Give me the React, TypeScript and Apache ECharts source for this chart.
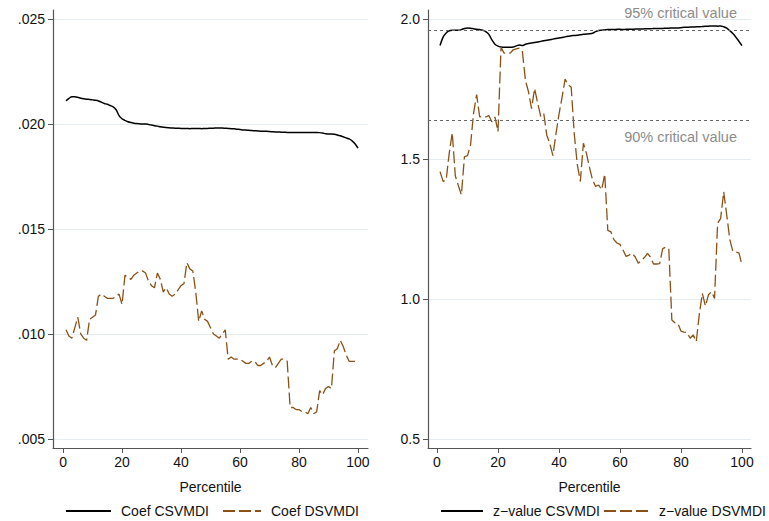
import React, { useEffect, useRef } from "react";
import * as echarts from "echarts";

const percentiles = [
  1, 2, 3, 4, 5, 6, 7, 8, 9, 10, 11, 12, 13, 14, 15, 16, 17, 18, 19, 20,
  21, 22, 23, 24, 25, 26, 27, 28, 29, 30, 31, 32, 33, 34, 35, 36, 37, 38, 39, 40,
  41, 42, 43, 44, 45, 46, 47, 48, 49, 50, 51, 52, 53, 54, 55, 56, 57, 58, 59, 60,
  61, 62, 63, 64, 65, 66, 67, 68, 69, 70, 71, 72, 73, 74, 75, 76, 77, 78, 79, 80,
  81, 82, 83, 84, 85, 86, 87, 88, 89, 90, 91, 92, 93, 94, 95, 96, 97, 98, 99, 100,
];

const coefCSVMDI = [
  0.0211, 0.02122, 0.0213, 0.0213, 0.02127, 0.02123, 0.0212, 0.02118, 0.02117, 0.02115,
  0.02113, 0.0211, 0.02104, 0.02098, 0.02094, 0.02088, 0.02082, 0.02068, 0.0204, 0.02025,
  0.02017, 0.02011, 0.02007, 0.02004, 0.02002, 0.02001, 0.02, 0.02, 0.01998, 0.01995,
  0.01992, 0.0199, 0.01987, 0.01985, 0.01983, 0.01982, 0.01981, 0.0198, 0.0198, 0.01979,
  0.01979, 0.01979, 0.01978, 0.01979, 0.01979, 0.01979, 0.01978, 0.01979, 0.01979, 0.0198,
  0.0198, 0.01981, 0.01981, 0.01981, 0.0198, 0.01979, 0.01978, 0.01977, 0.01975, 0.01974,
  0.01972, 0.01971, 0.0197, 0.01969, 0.01968, 0.01967, 0.01966, 0.01965, 0.01965, 0.01964,
  0.01963, 0.01962, 0.01962, 0.01961, 0.01961, 0.0196, 0.0196, 0.0196, 0.0196, 0.0196,
  0.0196, 0.0196, 0.0196, 0.0196, 0.0196, 0.0196, 0.01959, 0.01957, 0.01954, 0.01952,
  0.01952, 0.01951, 0.01948, 0.01944, 0.01939, 0.01934, 0.01929, 0.0192, 0.01906, 0.01885,
];

const coefDSVMDI = [
  0.0102, 0.0099, 0.0098, 0.0103, 0.0108, 0.01, 0.0098, 0.0097, 0.0107, 0.0108,
  0.0109, 0.0118, 0.0119, 0.0118, 0.0117, 0.0117, 0.0117, 0.0118, 0.0119, 0.0114,
  0.0128, 0.0127, 0.0126, 0.0128, 0.0129, 0.013, 0.013, 0.0129, 0.0125, 0.0123,
  0.0122, 0.0129, 0.0126, 0.012, 0.0122, 0.0119, 0.0118, 0.0119, 0.0121, 0.0123,
  0.0124, 0.0134, 0.0131, 0.013, 0.012, 0.0106, 0.0111, 0.0107, 0.0106, 0.0103,
  0.01, 0.0099, 0.0098, 0.01, 0.0102, 0.0088, 0.0089, 0.0088, 0.0088, 0.0088,
  0.0087, 0.0086, 0.0086, 0.0087, 0.0087, 0.0085, 0.0085, 0.0086, 0.0087, 0.0089,
  0.0085, 0.0084, 0.0086, 0.0088, 0.0088, 0.0087, 0.0065, 0.0065, 0.0064, 0.0064,
  0.0063, 0.0063, 0.0062, 0.0065, 0.0062, 0.0063, 0.0073, 0.0071, 0.0074, 0.0075,
  0.0074, 0.0092, 0.0093, 0.0097, 0.0094, 0.009, 0.0087, 0.0087, 0.0087, 0.0086,
];

const zCSVMDI = [
  1.905, 1.935, 1.95, 1.958, 1.96, 1.96, 1.96, 1.962, 1.966, 1.968,
  1.967, 1.965, 1.963, 1.962, 1.96, 1.955, 1.945, 1.925, 1.91, 1.903,
  1.9, 1.899, 1.899, 1.899, 1.9, 1.904, 1.907, 1.905, 1.91, 1.912,
  1.914, 1.916, 1.918, 1.92, 1.922, 1.924, 1.926, 1.928, 1.93, 1.932,
  1.934, 1.936, 1.938, 1.94, 1.941, 1.942, 1.944, 1.945, 1.946, 1.947,
  1.949, 1.955, 1.959, 1.96, 1.961, 1.962, 1.962, 1.962, 1.963, 1.963,
  1.962, 1.963, 1.963, 1.963, 1.964, 1.964, 1.964, 1.965, 1.965, 1.965,
  1.966, 1.966, 1.966, 1.966, 1.967, 1.967, 1.968, 1.968, 1.968, 1.969,
  1.97, 1.97, 1.971, 1.971, 1.972, 1.972, 1.973, 1.974, 1.974, 1.975,
  1.975, 1.974, 1.975, 1.972, 1.967, 1.958, 1.948, 1.935, 1.92, 1.905,
];

const zDSVMDI = [
  1.455, 1.42, 1.425, 1.52, 1.594, 1.44, 1.405, 1.372, 1.508, 1.512,
  1.55, 1.665, 1.73, 1.65, 1.652, 1.65, 1.655, 1.632, 1.65, 1.598,
  1.899, 1.878, 1.877, 1.878, 1.89, 1.893, 1.896, 1.884, 1.78, 1.74,
  1.68, 1.752, 1.7, 1.652, 1.663, 1.585, 1.555, 1.512, 1.59, 1.66,
  1.72, 1.785, 1.765, 1.756, 1.59, 1.48, 1.42, 1.556, 1.52, 1.47,
  1.425, 1.402, 1.407, 1.39, 1.446, 1.245, 1.24, 1.212, 1.2, 1.195,
  1.175, 1.152, 1.157, 1.163, 1.15, 1.128, 1.138, 1.148, 1.163, 1.15,
  1.125, 1.125, 1.126, 1.18, 1.185, 1.18, 0.925, 0.915, 0.912, 0.885,
  0.882, 0.88, 0.86, 0.872, 0.848, 0.945, 1.02, 0.975, 1.015, 1.026,
  1.002, 1.27, 1.288, 1.383, 1.3, 1.212, 1.17, 1.168, 1.165, 1.121,
];

const xTicks = [0, 20, 40, 60, 80, 100];
const leftYTicks = [0.005, 0.01, 0.015, 0.02, 0.025];
const rightYTicks = [0.5, 1.0, 1.5, 2.0];
const criticalValues = [
  { value: 1.96, label: "95% critical value" },
  { value: 1.64, label: "90% critical value" },
];

const seriesNames = ["Coef CSVMDI", "Coef DSVMDI", "z\u2212value CSVMDI", "z\u2212value DSVMDI"];

const FONT = "'Liberation Sans', Arial, Helvetica, sans-serif";
const BROWN = "#8a5117";
const GRID_COLOR = "#e3edef";
const AXIS_COLOR = "#555555";

function pairs(values: number[]) {
  return percentiles.map((p, i) => [p, values[i]]);
}

function xAxisDef(gridIndex: number, min: number, max: number) {
  return {
    type: "value",
    gridIndex,
    min,
    max,
    name: "Percentile",
    nameLocation: "middle",
    nameGap: 32,
    nameTextStyle: { fontFamily: FONT, fontSize: 14, color: "#111" },
    axisLine: { show: true, onZero: false, lineStyle: { color: AXIS_COLOR, width: 1.2 } },
    axisTick: { show: true, length: 5, customValues: xTicks, lineStyle: { color: AXIS_COLOR } },
    axisLabel: {
      customValues: xTicks,
      fontFamily: FONT,
      fontSize: 14,
      color: "#111",
      margin: 7,
    },
    splitLine: { show: false },
  };
}

function yAxisDef(gridIndex: number, min: number, max: number, ticks: number[], fmt: (v: number) => string) {
  return {
    type: "value",
    gridIndex,
    min,
    max,
    axisLine: { show: true, onZero: false, lineStyle: { color: AXIS_COLOR, width: 1.2 } },
    axisTick: { show: true, length: 5, customValues: ticks, lineStyle: { color: AXIS_COLOR } },
    axisLabel: {
      customValues: ticks,
      formatter: fmt,
      fontFamily: FONT,
      fontSize: 14,
      color: "#111",
      margin: 8,
    },
    splitLine: { show: true, lineStyle: { color: GRID_COLOR, width: 1 } },
  };
}

function legendDef(name: string, left: number, itemWidth: number) {
  return {
    data: [name],
    left,
    top: 504,
    padding: 0,
    itemWidth,
    itemHeight: 14,
    selectedMode: false,
    itemStyle: { color: "transparent", borderWidth: 0, opacity: 0 },
    textStyle: { fontFamily: FONT, fontSize: 14, color: "#111", padding: [0, 0, 0, 5] },
  };
}

export default function App() {
  const ref = useRef<HTMLDivElement>(null);

  useEffect(() => {
    document.body.style.margin = "0";
    if (!ref.current) return;
    const chart = echarts.init(ref.current, undefined, { renderer: "svg" });

    const option = {
      animation: false,
      backgroundColor: "#ffffff",
      grid: [
        { left: 53, top: 10, width: 315, height: 438 },
        { left: 428, top: 10, width: 323, height: 438 },
      ],
      xAxis: [xAxisDef(0, -3.4, 103.4), xAxisDef(1, -2.95, 102.95)],
      yAxis: [
        yAxisDef(0, 0.00457, 0.02543, leftYTicks, (v: number) => v.toFixed(3).replace(/^0/, "")),
        yAxisDef(1, 0.468, 2.032, rightYTicks, (v: number) => v.toFixed(1)),
      ],
      legend: [
        legendDef(seriesNames[0], 65, 45),
        legendDef(seriesNames[1], 222, 38),
        legendDef(seriesNames[2], 440, 42),
        legendDef(seriesNames[3], 603, 45),
      ],
      series: [
        {
          name: seriesNames[0],
          type: "line",
          xAxisIndex: 0,
          yAxisIndex: 0,
          data: pairs(coefCSVMDI),
          showSymbol: false,
          symbol: "none",
          smooth: 0.3,
          lineStyle: { color: "#000", width: 1.5 },
          itemStyle: { color: "#000" },
        },
        {
          name: seriesNames[1],
          type: "line",
          xAxisIndex: 0,
          yAxisIndex: 0,
          data: pairs(coefDSVMDI),
          showSymbol: false,
          symbol: "none",
          lineStyle: { color: BROWN, width: 1.3, type: [12, 4] },
          itemStyle: { color: BROWN },
        },
        {
          name: seriesNames[2],
          type: "line",
          xAxisIndex: 1,
          yAxisIndex: 1,
          data: pairs(zCSVMDI),
          showSymbol: false,
          symbol: "none",
          smooth: 0.3,
          lineStyle: { color: "#000", width: 1.5 },
          itemStyle: { color: "#000" },
          markLine: {
            silent: true,
            symbol: "none",
            animation: false,
            lineStyle: { color: "#666", type: [3, 3], width: 1 },
            data: criticalValues.map((c, i) => ({
              yAxis: c.value,
              label: {
                show: true,
                formatter: c.label,
                position: i === 0 ? "insideEndTop" : "insideEndBottom",
                distance: [14, 10],
                fontFamily: FONT,
                fontSize: 14.5,
                color: "#8c8c8c",
              },
            })),
          },
        },
        {
          name: seriesNames[3],
          type: "line",
          xAxisIndex: 1,
          yAxisIndex: 1,
          data: pairs(zDSVMDI),
          showSymbol: false,
          symbol: "none",
          lineStyle: { color: BROWN, width: 1.3, type: [12, 4] },
          itemStyle: { color: BROWN },
        },
      ],
    };

    chart.setOption(option as any);
    return () => chart.dispose();
  }, []);

  return <div ref={ref} style={{ width: 769, height: 521 }} />;
}
